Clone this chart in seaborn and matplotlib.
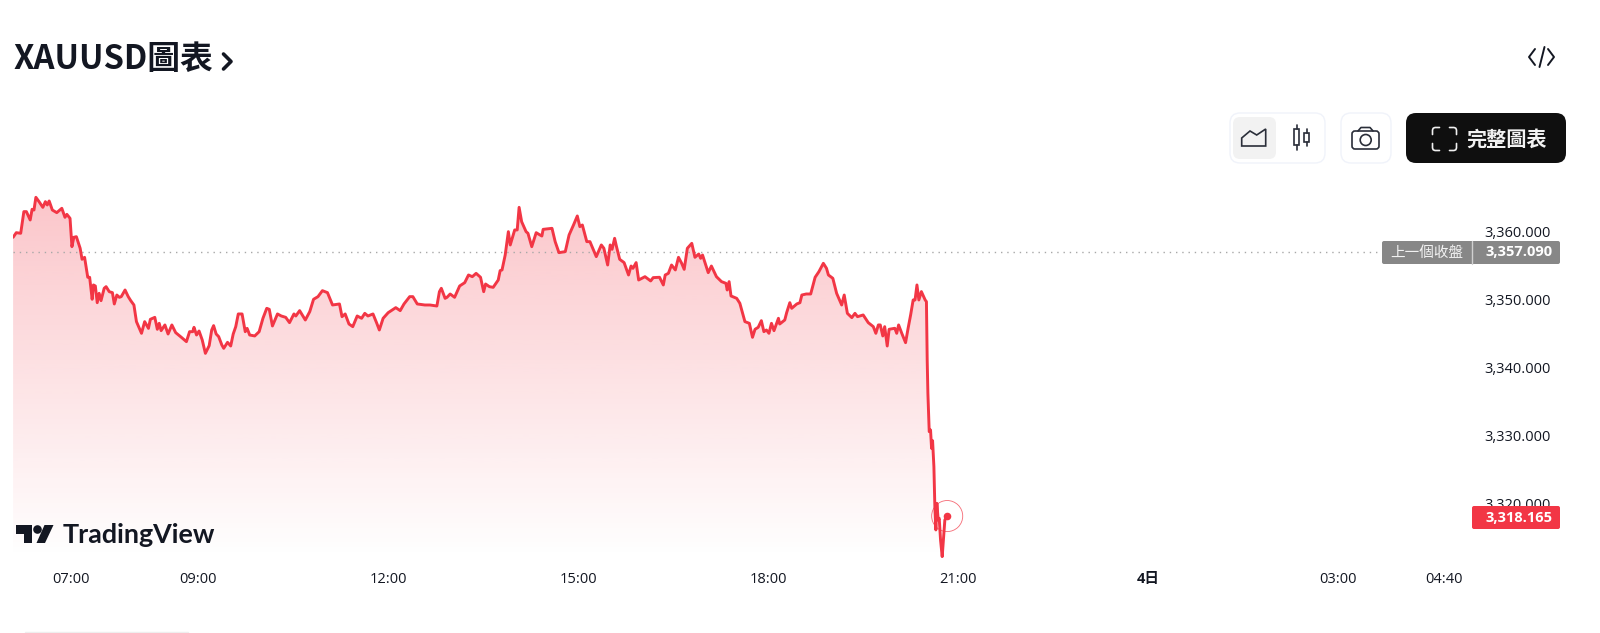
import numpy as np
import pandas as pd
import seaborn as sns
import matplotlib
matplotlib.use("Agg")
import matplotlib.pyplot as plt
from matplotlib.patches import FancyBboxPatch, Circle, Polygon, Rectangle

# ---- data (hour of day, price) ----
hours_read = [
 6.08,6.13,6.20,6.25,6.29,6.35,6.38,6.41,6.44,6.49,6.55,6.59,6.62,6.65,6.70,6.77,6.85,6.90,6.93,6.98,
 7.01,7.04,7.08,7.14,7.17,7.21,7.26,7.29,7.33,7.35,7.38,7.41,7.44,7.47,7.52,7.55,7.60,7.65,7.68,7.72,
 7.76,7.79,7.85,7.90,7.94,7.99,8.03,8.11,8.16,8.22,8.25,8.32,8.36,8.39,8.42,8.48,8.53,8.59,8.65,8.74,
 8.82,8.87,8.92,8.94,8.98,9.02,9.07,9.12,9.18,9.22,9.25,9.29,9.33,9.38,9.41,9.47,9.52,9.56,9.60,9.64,
 9.70,9.75,9.78,9.82,9.90,9.97,10.03,10.09,10.13,10.18,10.26,10.32,10.39,10.45,10.52,10.55,10.61,10.70,10.77,10.83,
 10.90,10.97,11.05,11.13,11.24,11.28,11.33,11.39,11.45,11.52,11.59,11.64,11.69,11.77,11.83,11.87,11.93,12.01,12.13,12.20,
 12.26,12.35,12.40,12.47,12.59,12.67,12.78,12.82,12.85,12.91,12.94,12.99,13.06,13.14,13.22,13.28,13.34,13.40,13.47,13.52,
 13.55,13.61,13.67,13.75,13.78,13.81,13.86,13.91,13.94,14.01,14.05,14.08,14.12,14.19,14.22,14.28,14.35,14.41,14.44,14.46,
 14.60,14.65,14.71,14.81,14.87,14.94,15.00,15.04,15.08,15.15,15.20,15.30,15.38,15.42,15.48,15.52,15.55,15.59,15.62,15.67,
 15.74,15.81,15.85,15.88,15.93,15.97,16.07,16.16,16.20,16.30,16.36,16.39,16.44,16.49,16.55,16.60,16.65,16.69,16.74,16.81,
 16.86,16.92,16.95,16.98,17.07,17.12,17.20,17.28,17.35,17.37,17.40,17.43,17.52,17.57,17.65,17.72,17.77,17.81,17.86,17.91,
 17.95,17.99,18.03,18.07,18.11,18.18,18.20,18.28,18.31,18.36,18.39,18.47,18.52,
 18.55,18.62,18.69,18.76,18.82,18.89,18.94,18.97,19.04,19.10,19.18,19.22,19.27,19.34,19.39,19.43,19.52,19.60,19.68,19.72,
 19.76,19.79,19.83,19.86,19.90,19.93,20.02,20.05,20.08,20.13,20.19,20.23,20.27,20.31,20.34,20.37,20.40,20.44,20.50,20.52,
 20.532,20.543,20.564,20.585,20.601,20.617,20.638,20.653,20.669,20.685,20.706,20.722,20.743,20.769,20.811,20.848]
price = [
 3359.22,3359.90,3359.81,3363.00,3363.00,3361.77,3363.34,3363.24,3365.11,3364.47,3363.63,3364.47,3363.98,3364.57,3363.24,3362.85,3363.49,3362.16,3362.60,3362.01,
 3357.84,3359.22,3359.31,3357.60,3355.98,3356.27,3353.33,3353.33,3350.09,3352.20,3352.05,3349.59,3350.97,3349.89,3351.71,3351.95,3351.21,3351.07,3349.40,3350.72,
 3350.38,3350.48,3351.46,3350.48,3349.89,3349.25,3346.80,3345.08,3346.80,3345.81,3347.14,3347.43,3345.67,3346.55,3345.47,3346.31,3344.98,3346.31,3345.18,3344.49,
 3343.85,3345.32,3345.32,3345.96,3344.83,3345.42,3344.10,3342.13,3343.26,3345.57,3346.21,3344.98,3344.59,3343.36,3342.87,3343.75,3343.21,3344.98,3346.06,3347.93,
 3347.93,3345.32,3345.81,3344.83,3344.69,3345.32,3347.29,3348.76,3348.61,3346.16,3347.93,3347.63,3347.43,3346.65,3347.93,3347.63,3348.42,3347.04,3348.27,3350.09,
 3350.48,3351.36,3351.07,3349.25,3349.40,3347.53,3347.93,3346.45,3346.06,3347.63,3347.29,3348.02,3347.63,3347.93,3346.55,3345.57,3347.29,3348.12,3348.86,3348.42,
 3349.40,3350.48,3350.48,3349.40,3349.25,3349.25,3349.10,3351.21,3351.71,3350.23,3350.38,3350.87,3350.38,3352.05,3352.54,3353.67,3353.42,3353.91,3353.33,3351.21,
 3352.34,3351.95,3351.85,3352.93,3354.31,3354.41,3356.61,3360.05,3358.09,3360.30,3360.30,3363.63,3361.52,3360.05,3359.81,3357.84,3359.90,3359.56,3359.41,3360.39,
 3360.54,3358.58,3356.96,3357.11,3359.56,3361.03,3362.36,3360.79,3361.03,3358.58,3358.58,3356.37,3358.09,3357.60,3355.14,3358.09,3357.45,3359.07,3357.84,3355.98,
 3355.49,3353.67,3354.99,3354.65,3355.49,3352.93,3353.42,3352.79,3353.28,3353.33,3352.20,3353.67,3353.91,3355.14,3354.41,3356.27,3355.39,3354.50,3357.60,3358.33,
 3356.27,3356.76,3356.12,3356.61,3354.01,3354.99,3353.42,3352.69,3352.44,3351.46,3352.69,3350.58,3350.23,3349.50,3346.80,3346.55,3344.49,3345.67,3345.96,3346.94,
 3345.32,3345.57,3345.08,3346.55,3345.47,3347.29,3346.45,3347.04,3348.12,3349.59,3348.76,3349.40,3349.59,
 3350.72,3350.87,3350.87,3353.33,3354.16,3355.39,3354.65,3353.67,3353.18,3350.97,3349.25,3350.72,3348.02,3347.39,3348.02,3347.53,3347.78,3346.65,3346.06,3345.08,
 3346.31,3346.31,3344.69,3346.06,3343.21,3345.67,3345.82,3345.08,3346.31,3345.08,3343.70,3345.82,3347.78,3349.99,3349.99,3352.20,3349.99,3351.22,3349.99,3349.74,
 3341.15,3336.24,3330.60,3330.84,3328.14,3329.27,3325.44,3319.55,3316.12,3320.04,3317.59,3317.83,3314.64,3312.19,3317.59,3318.18]
x_tick_hours = [7, 9, 12, 15, 18, 21, 24, 27, 28.667]
x_tick_labels = ["07:00", "09:00", "12:00", "15:00", "18:00", "21:00", "4日", "03:00", "04:40"]
y_tick_values = [3320, 3330, 3340, 3350, 3360]
y_tick_labels = ["3,320.000", "3,330.000", "3,340.000", "3,350.000", "3,360.000"]
prev_close = 3357.090
last_price = 3318.165
title_text = "XAUUSD圖表"
prev_label = "上一個收盤"
prev_value = "3,357.090"
last_value = "3,318.165"
button_text = "完整圖表"
brand_text = "TradingView"

RED = "#f23645"
INK = "#131722"
LATIN_CJK = ["Open Sans", "Noto Sans CJK TC", "DejaVu Sans"]

sns.set_theme(style="white")
plt.rcParams["font.family"] = LATIN_CJK

W, H = 1600, 633
fig = plt.figure(figsize=(W / 100, H / 100), dpi=100, facecolor="white")

# main chart, placed in pixels
L, R, T, B = 13, 1450, 190, 558
ax = fig.add_axes([L / W, 1 - B / H, (R - L) / W, (B - T) / H])

# time scale correction: my readings used 63.25 px/h, the tick labels give 63.36 px/h
hours = 7 + (np.array(hours_read) - 7) * 63.25 / 63.36
df = pd.DataFrame({"hour": hours, "price": price})

grad = np.zeros((256, 1, 4))
c = matplotlib.colors.to_rgb(RED)
grad[..., 0], grad[..., 1], grad[..., 2] = c
grad[..., 3] = np.linspace(0.29, 0.0, 256)[:, None]
xlim = (7 + (L - 71.3) / 63.36, 7 + (R - 71.3) / 63.36)
ylim = (3360 - (B - 232) / 6.79, 3360 + (232 - T) / 6.79)
im = ax.imshow(grad, aspect="auto", origin="upper", zorder=1,
               extent=(xlim[0], xlim[1], ylim[0], 3366), interpolation="bilinear")
poly = Polygon(np.column_stack([np.r_[hours[0], hours, hours[-1]],
                                np.r_[ylim[0], price, ylim[0]]]),
               closed=True, transform=ax.transData, facecolor="none", edgecolor="none")
ax.add_patch(poly)
im.set_clip_path(poly)

ax.axhline(prev_close, color="#a8a8a8", lw=1, ls=(0, (1, 3.5)), zorder=2)
sns.lineplot(data=df, x="hour", y="price", estimator=None, sort=False, color=RED,
             lw=2.1, ax=ax, zorder=3, legend=False)
ax.scatter([hours[-1]], [last_price], s=30, color=RED, zorder=4, linewidths=0)
ax.scatter([hours[-1]], [last_price], s=500, facecolor="none", edgecolor=RED,
           linewidths=0.6, alpha=0.75, zorder=4)

ax.set_xlim(*xlim)
ax.set_ylim(*ylim)
ax.set_xlabel("")
ax.set_ylabel("")
ax.set_xticks(x_tick_hours)
ax.set_xticklabels(x_tick_labels)
ax.set_yticks(y_tick_values)
ax.set_yticklabels(y_tick_labels)
ax.yaxis.tick_right()
ax.tick_params(axis="x", length=0, pad=10, labelsize=10.5, labelcolor=INK)
ax.tick_params(axis="y", length=0, pad=25, labelsize=10.5, labelcolor=INK)
for lab in ax.get_xticklabels():
    if lab.get_text() == "4日":
        lab.set_fontweight("bold")
for s in ax.spines.values():
    s.set_visible(False)
ax.patch.set_alpha(0)

# overlay in pixel coordinates for page furniture
ui = fig.add_axes([0, 0, 1, 1], zorder=5)
ui.set_xlim(0, W)
ui.set_ylim(H, 0)
ui.axis("off")
ui.patch.set_alpha(0)


def rbox(x0, y0, x1, y1, r, fc, ec="none", lw=1, z=2):
    ui.add_patch(FancyBboxPatch((x0 + r, y0 + r), x1 - x0 - 2 * r, y1 - y0 - 2 * r,
                                boxstyle=f"round,pad={r},rounding_size={r}",
                                fc=fc, ec=ec, lw=lw, zorder=z))


def stroke(xs, ys, color="#131722", lw=1.3, z=4):
    ui.plot(xs, ys, color=color, lw=lw, solid_capstyle="round", solid_joinstyle="round", zorder=z)


# title
ui.text(13, 59, title_text, fontsize=23.6, fontweight="bold", color=INK, va="center", ha="left",
        family=["Noto Sans CJK TC", "DejaVu Sans"])
stroke([223.5, 231, 223.5], [54, 61.5, 69], lw=2.6)

# code icon
stroke([1535, 1529, 1535], [49, 57, 65], lw=1.4)
stroke([1544.5, 1539.5], [47, 67], lw=1.4)
stroke([1548, 1554, 1548], [49, 57, 65], lw=1.4)

# toggle group
rbox(1230, 113, 1325, 163, 10, "white", "#f0f3fa")
rbox(1233, 117, 1276, 159, 7, "#f2f2f2")
ui.add_patch(Polygon([(1241.7, 138), (1250, 131), (1256.7, 135), (1265.7, 129), (1265.7, 146), (1241.7, 146)],
                     closed=True, fc="none", ec="#2a2e39", lw=1.2, zorder=4))
for xc, y0, y1, w0, w1 in [(1296.5, 129, 145, 125, 150), (1306.5, 133, 142, 129, 146)]:
    stroke([xc, xc], [w0, y0], lw=1.2, color="#2a2e39")
    stroke([xc, xc], [y1, w1], lw=1.2, color="#2a2e39")
    ui.add_patch(Rectangle((xc - 2.5, y0), 5, y1 - y0, fc="none", ec="#2a2e39", lw=1.2, zorder=4))

# camera
rbox(1341, 113, 1391, 163, 10, "white", "#f0f3fa")
ui.add_patch(FancyBboxPatch((1354, 133), 23, 14, boxstyle="round,pad=2,rounding_size=3",
                            fc="none", ec="#2a2e39", lw=1.2, zorder=4))
stroke([1358, 1361, 1370, 1373], [131, 127.5, 127.5, 131], lw=1.2, color="#2a2e39")
ui.add_patch(Circle((1365.7, 140), 5.5, fc="none", ec="#2a2e39", lw=1.2, zorder=4))

# black button
rbox(1406, 113, 1566, 163, 10, "#0f0f0f")
for sx, sy, xo, yo in [(1, 1, 1432.5, 127.5), (-1, 1, 1456.5, 127.5), (1, -1, 1432.5, 150.5), (-1, -1, 1456.5, 150.5)]:
    stroke([xo + 7 * sx, xo + 2.5 * sx, xo + 0.7 * sx, xo, xo],
           [yo, yo, yo + 0.7 * sy, yo + 2.5 * sy, yo + 7 * sy], color="#f0f0f0", lw=1.2)
ui.text(1506.5, 139, button_text, fontsize=14.5, fontweight="bold", color="#f2f2f2", ha="center", va="center",
        family=["Noto Sans CJK TC", "DejaVu Sans"], zorder=4)

# price badges
rbox(1382, 241, 1560, 264, 2, "#878787")
ui.plot([1472, 1472], [241, 264], color="#d0d0d0", lw=1, zorder=3)
ui.text(1427, 252.5, prev_label, fontsize=10.5, color="#f2f2f2", ha="center", va="center",
        family=["Noto Sans CJK TC", "DejaVu Sans"], zorder=4)
ui.text(1485, 252.5, prev_value, fontsize=10.5, fontweight="bold", color="white", ha="left", va="center",
        family=LATIN_CJK, zorder=4)
rbox(1472, 506, 1560, 529, 2, RED)
ui.text(1485, 517.5, last_value, fontsize=10.5, fontweight="bold", color="white", ha="left", va="center",
        family=LATIN_CJK, zorder=4)

# TradingView brand
ui.add_patch(Polygon([(16, 525), (32, 525), (32, 543), (23.5, 543), (23.5, 533.5), (16, 533.5)],
                     closed=True, fc="#131722", ec="none", zorder=4))
ui.add_patch(Circle((37.5, 529.5), 4.3, fc="#131722", ec="none", zorder=4))
ui.add_patch(Polygon([(44.5, 525), (53.5, 525), (45, 543), (36.5, 543)],
                     closed=True, fc="#131722", ec="none", zorder=4))
ui.text(62.5, 543, brand_text, fontsize=19.4, fontweight="bold", color="#131722", ha="left", va="baseline",
        family=["Lato", "DejaVu Sans"], zorder=4)

# faint rule at the very bottom
ui.plot([25, 188], [632, 632], color="#eeeeee", lw=1)

fig.savefig("out.png", dpi=100, facecolor="white")
